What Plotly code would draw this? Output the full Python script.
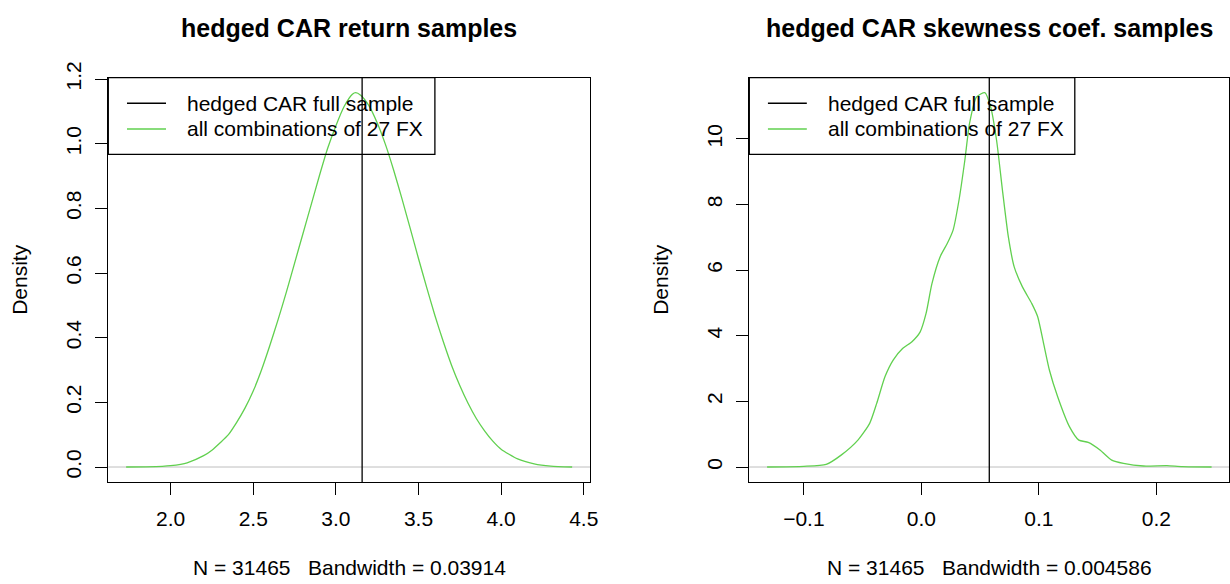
import plotly.graph_objects as go

# Kernel density estimate of hedged CAR mean returns (all 27-FX combinations)
ret_x = [1.731, 1.85, 1.95, 2.00, 2.10, 2.20, 2.25, 2.30, 2.35, 2.40, 2.45, 2.50,
         2.55, 2.60, 2.65, 2.70, 2.75, 2.80, 2.85, 2.90, 2.95, 3.00, 3.05, 3.10,
         3.12, 3.15, 3.20, 3.25, 3.30, 3.35, 3.40, 3.45, 3.50, 3.55, 3.60, 3.65,
         3.70, 3.75, 3.80, 3.85, 3.90, 3.95, 4.00, 4.10, 4.20, 4.30, 4.430]
ret_y = [0.000, 0.0005, 0.002, 0.004, 0.013, 0.035, 0.052, 0.075, 0.100, 0.138,
         0.182, 0.235, 0.300, 0.375, 0.455, 0.540, 0.630, 0.720, 0.810, 0.900,
         0.985, 1.055, 1.115, 1.153, 1.158, 1.150, 1.118, 1.065, 0.998, 0.918,
         0.830, 0.738, 0.645, 0.555, 0.468, 0.388, 0.315, 0.252, 0.197, 0.150,
         0.112, 0.080, 0.055, 0.025, 0.010, 0.003, 0.000]

# Kernel density estimate of hedged CAR skewness coefficients
skew_x = [-0.1313, -0.100, -0.081, -0.068, -0.054, -0.044, -0.038, -0.031, -0.024,
          -0.016, -0.008, -0.001, 0.004, 0.009, 0.016, 0.022, 0.027, 0.032, 0.037,
          0.041, 0.047, 0.054, 0.059, 0.064, 0.069, 0.074, 0.079, 0.086, 0.094,
          0.099, 0.104, 0.109, 0.116, 0.126, 0.134, 0.142, 0.152, 0.162, 0.172,
          0.189, 0.209, 0.222, 0.247]
skew_y = [0.00, 0.02, 0.08, 0.37, 0.82, 1.33, 1.94, 2.75, 3.26, 3.61, 3.82, 4.12,
          4.68, 5.59, 6.41, 6.81, 7.22, 8.13, 9.35, 10.47, 11.28, 11.41, 10.97,
          9.96, 8.44, 7.02, 6.10, 5.49, 4.98, 4.58, 3.77, 2.95, 2.14, 1.23, 0.82,
          0.75, 0.52, 0.21, 0.11, 0.03, 0.04, 0.01, 0.00]

# Full-sample statistics
full_sample_return = 3.159
full_sample_skew = 0.0578

titles = ["hedged CAR return samples", "hedged CAR skewness coef. samples"]
subtitles = ["N = 31465   Bandwidth = 0.03914", "N = 31465   Bandwidth = 0.004586"]
legend_labels = ["hedged CAR full sample", "all combinations of 27 FX"]

ret_xticks = [2.0, 2.5, 3.0, 3.5, 4.0, 4.5]
ret_xlabels = ["2.0", "2.5", "3.0", "3.5", "4.0", "4.5"]
ret_yticks = [0.0, 0.2, 0.4, 0.6, 0.8, 1.0, 1.2]
ret_ylabels = ["0.0", "0.2", "0.4", "0.6", "0.8", "1.0", "1.2"]
skew_xticks = [-0.1, 0.0, 0.1, 0.2]
skew_xlabels = ["\u22120.1", "0.0", "0.1", "0.2"]
skew_yticks = [0, 2, 4, 6, 8, 10]
skew_ylabels = ["0", "2", "4", "6", "8", "10"]

GREEN = "#61D04F"
FONT = "Liberation Sans, Arial, Helvetica, sans-serif"
FS = 21


def padded(lo, hi):
    d = (hi - lo) * 0.04
    return [lo - d, hi + d]


fig = go.Figure()
fig.add_trace(go.Scatter(x=ret_x, y=ret_y, mode="lines", xaxis="x", yaxis="y",
                         line=dict(color=GREEN, width=1.3, shape="spline", smoothing=0.6),
                         hoverinfo="skip", showlegend=False))
fig.add_trace(go.Scatter(x=skew_x, y=skew_y, mode="lines", xaxis="x2", yaxis="y2",
                         line=dict(color=GREEN, width=1.3, shape="spline", smoothing=0.6),
                         hoverinfo="skip", showlegend=False))

ydom = [0.1747, 0.8670]
xdoms = [[0.08805, 0.47967], [0.60919, 0.9995]]

axis_common = dict(showgrid=False, showline=True, linecolor="black", linewidth=1.3,
                   mirror=True, ticks="outside", ticklen=12, tickwidth=1.3,
                   tickcolor="black", tickfont=dict(family=FONT, size=FS, color="black"),
                   zeroline=False, fixedrange=True, automargin=False)

fig.update_layout(
    template="none",
    width=1230, height=584,
    margin=dict(l=0, r=0, t=0, b=0, pad=0, autoexpand=False),
    paper_bgcolor="white", plot_bgcolor="white",
    showlegend=False,
    xaxis=dict(domain=xdoms[0], range=padded(min(ret_x), max(ret_x)),
               tickvals=ret_xticks, ticktext=ret_xlabels, anchor="y",
               ticklabelstandoff=6, **axis_common),
    yaxis=dict(domain=ydom, range=padded(0, max(ret_y)),
               tickvals=ret_yticks, ticktext=ret_ylabels, anchor="x",
               tickangle=-90, ticklabelstandoff=6, **axis_common),
    xaxis2=dict(domain=xdoms[1], range=padded(min(skew_x), max(skew_x)),
                tickvals=skew_xticks, ticktext=skew_xlabels, anchor="y2",
                ticklabelstandoff=6, **axis_common),
    yaxis2=dict(domain=ydom, range=padded(0, max(skew_y)),
                tickvals=skew_yticks, ticktext=skew_ylabels, anchor="x2",
                tickangle=-90, ticklabelstandoff=6, **axis_common),
)

shapes = []
annotations = []
panels = [("x", "y", full_sample_return), ("x2", "y2", full_sample_skew)]
for i, (xa, ya, vline) in enumerate(panels):
    xd = xdoms[i]
    # zero baseline
    shapes.append(dict(type="line", xref=f"{xa} domain", yref=ya, x0=0, x1=1, y0=0, y1=0,
                       line=dict(color="#BEBEBE", width=1), layer="below"))
    # full-sample reference line
    shapes.append(dict(type="line", xref=xa, yref=f"{ya} domain", x0=vline, x1=vline,
                       y0=0, y1=1, line=dict(color="black", width=1.3)))
    # legend frame
    shapes.append(dict(type="rect", xref=f"{xa} domain", yref=f"{ya} domain",
                       x0=0, x1=0.678, y0=0.8105, y1=1,
                       line=dict(color="black", width=1.3), fillcolor="rgba(0,0,0,0)"))
    for row, (col, lab) in enumerate(zip(["black", GREEN], legend_labels)):
        yy = 0.9367 - row * 0.0636
        shapes.append(dict(type="line", xref=f"{xa} domain", yref=f"{ya} domain",
                           x0=0.0388, x1=0.1198, y0=yy, y1=yy,
                           line=dict(color=col, width=1.3)))
        annotations.append(dict(text=lab, xref=f"{xa} domain", yref=f"{ya} domain",
                                x=0.159, y=yy, xanchor="left", yanchor="middle",
                                showarrow=False,
                                font=dict(family=FONT, size=FS, color="black")))
    cx = (xd[0] + xd[1]) / 2
    annotations.append(dict(text=f"<b>{titles[i]}</b>", xref="paper", yref="paper",
                            x=cx, y=0.952, xanchor="center", yanchor="middle",
                            showarrow=False,
                            font=dict(family=FONT, size=25, color="black")))
    annotations.append(dict(text=subtitles[i], xref="paper", yref="paper",
                            x=cx, y=0.0291, xanchor="center", yanchor="middle",
                            showarrow=False,
                            font=dict(family=FONT, size=FS, color="black")))
    annotations.append(dict(text="Density", xref="paper", yref="paper",
                            x=xd[0] - 88.3 / 1230, y=0.5208, xanchor="center",
                            yanchor="middle", textangle=-90, showarrow=False,
                            font=dict(family=FONT, size=FS, color="black")))

fig.update_layout(shapes=shapes, annotations=annotations)
fig.write_html("out.html")
